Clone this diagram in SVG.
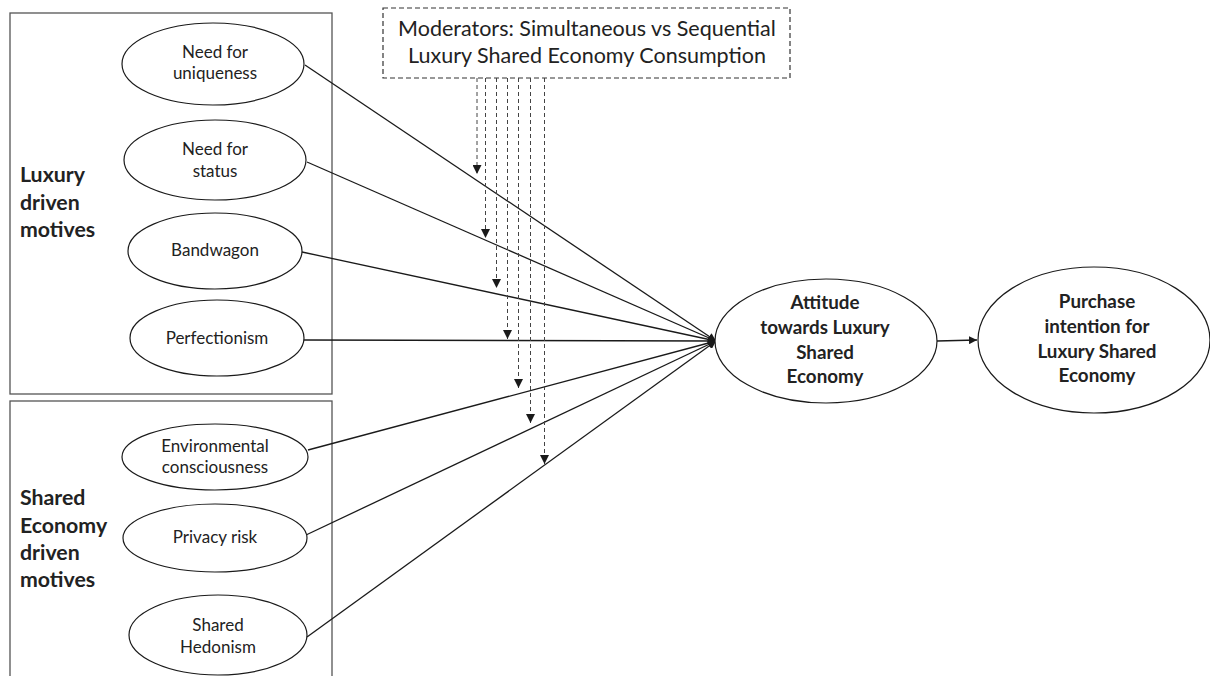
<svg xmlns="http://www.w3.org/2000/svg" width="1210" height="676" viewBox="0 0 1210 676">
<defs>
<marker id="arr" viewBox="0 0 10 10" refX="10" refY="5" markerWidth="8" markerHeight="8" markerUnits="userSpaceOnUse" orient="auto"><path d="M0,0 L10,5 L0,10 z" fill="#1a1a1a"/></marker>
<marker id="arrd" viewBox="0 0 10 10" refX="10" refY="5" markerWidth="9" markerHeight="9" markerUnits="userSpaceOnUse" orient="auto"><path d="M0,0 L10,5 L0,10 z" fill="#1a1a1a"/></marker>
<style>
.box{fill:none;stroke:#555;stroke-width:1.3}
.el{fill:#fff;stroke:#1a1a1a;stroke-width:1.2}
.t{font-family:Lato,"Liberation Sans",sans-serif;font-size:17px;fill:#222;text-anchor:middle}
.b{font-family:Lato,"Liberation Sans",sans-serif;font-size:21.3px;font-weight:bold;fill:#222}
.bc{font-family:Lato,"Liberation Sans",sans-serif;font-size:18.8px;font-weight:bold;fill:#222;text-anchor:middle}
.m{font-family:Lato,"Liberation Sans",sans-serif;font-size:21.5px;fill:#222;text-anchor:middle}
.c{stroke:#1a1a1a;stroke-width:1.3;fill:none;marker-end:url(#arr)}
.d{stroke:#444;stroke-width:1;stroke-dasharray:4,3;fill:none;marker-end:url(#arrd)}
</style>
</defs>
<g id="group-luxury">
<rect class="box" x="10" y="13" width="322" height="381"/>
<text class="b" x="20" y="182">Luxury</text>
<text class="b" x="20" y="210">driven</text>
<text class="b" x="20" y="237">motives</text>
</g>
<g id="group-shared">
<rect class="box" x="10" y="401" width="322" height="300"/>
<text class="b" x="20" y="505">Shared</text>
<text class="b" x="20" y="533">Economy</text>
<text class="b" x="20" y="560">driven</text>
<text class="b" x="20" y="587">motives</text>
</g>
<g id="moderators">
<rect x="383" y="8" width="407" height="70" fill="none" stroke="#333" stroke-width="1.2" stroke-dasharray="5,3"/>
<text class="m" x="587" y="36">Moderators: Simultaneous vs Sequential</text>
<text class="m" x="587" y="63">Luxury Shared Economy Consumption</text>
</g>
<g id="connectors">
<line class="c" x1="305" y1="65" x2="716" y2="341"/>
<line class="c" x1="307" y1="162" x2="716" y2="341"/>
<line class="c" x1="302" y1="252" x2="716" y2="341"/>
<line class="c" x1="304" y1="340" x2="716" y2="341"/>
<line class="c" x1="308" y1="450" x2="716" y2="341"/>
<line class="c" x1="306" y1="535" x2="716" y2="341"/>
<line class="c" x1="307" y1="637" x2="716" y2="341"/>
<line class="c" x1="937" y1="341" x2="977" y2="340"/>
<line class="d" x1="477" y1="78" x2="477" y2="174"/>
<line class="d" x1="485.5" y1="78" x2="485.5" y2="238"/>
<line class="d" x1="496.5" y1="78" x2="496.5" y2="288"/>
<line class="d" x1="507.5" y1="78" x2="507.5" y2="339"/>
<line class="d" x1="518.5" y1="78" x2="518.5" y2="388"/>
<line class="d" x1="530.5" y1="78" x2="530.5" y2="423"/>
<line class="d" x1="544.5" y1="78" x2="544.5" y2="464"/>
</g>
<g id="need-uniqueness">
<ellipse class="el" cx="213" cy="64" rx="91" ry="41"/>
<text class="t" x="215" y="58">Need for</text>
<text class="t" x="215" y="79">uniqueness</text>
</g>
<g id="need-status">
<ellipse class="el" cx="215" cy="160" rx="91" ry="40"/>
<text class="t" x="215" y="155">Need for</text>
<text class="t" x="215" y="177">status</text>
</g>
<g id="bandwagon">
<ellipse class="el" cx="215" cy="251" rx="87" ry="38"/>
<text class="t" x="215" y="256">Bandwagon</text>
</g>
<g id="perfectionism">
<ellipse class="el" cx="217" cy="338" rx="87" ry="38"/>
<text class="t" x="217" y="344">Perfectionism</text>
</g>
<g id="environmental">
<ellipse class="el" cx="215" cy="457" rx="93" ry="33"/>
<text class="t" x="215" y="452">Environmental</text>
<text class="t" x="215" y="473">consciousness</text>
</g>
<g id="privacy">
<ellipse class="el" cx="215" cy="538" rx="92" ry="34"/>
<text class="t" x="215" y="543">Privacy risk</text>
</g>
<g id="hedonism">
<ellipse class="el" cx="218" cy="635" rx="89" ry="40"/>
<text class="t" x="218" y="631">Shared</text>
<text class="t" x="218" y="653">Hedonism</text>
</g>
<g id="attitude">
<ellipse class="el" cx="826" cy="341" rx="111" ry="62"/>
<text class="bc" x="825" y="309">Attitude</text>
<text class="bc" x="825" y="334">towards Luxury</text>
<text class="bc" x="825" y="359">Shared</text>
<text class="bc" x="825" y="383">Economy</text>
</g>
<g id="purchase">
<ellipse class="el" cx="1094" cy="340" rx="116" ry="73"/>
<text class="bc" x="1097" y="308">Purchase</text>
<text class="bc" x="1097" y="333">intention for</text>
<text class="bc" x="1097" y="358">Luxury Shared</text>
<text class="bc" x="1097" y="382">Economy</text>
</g>
</svg>
